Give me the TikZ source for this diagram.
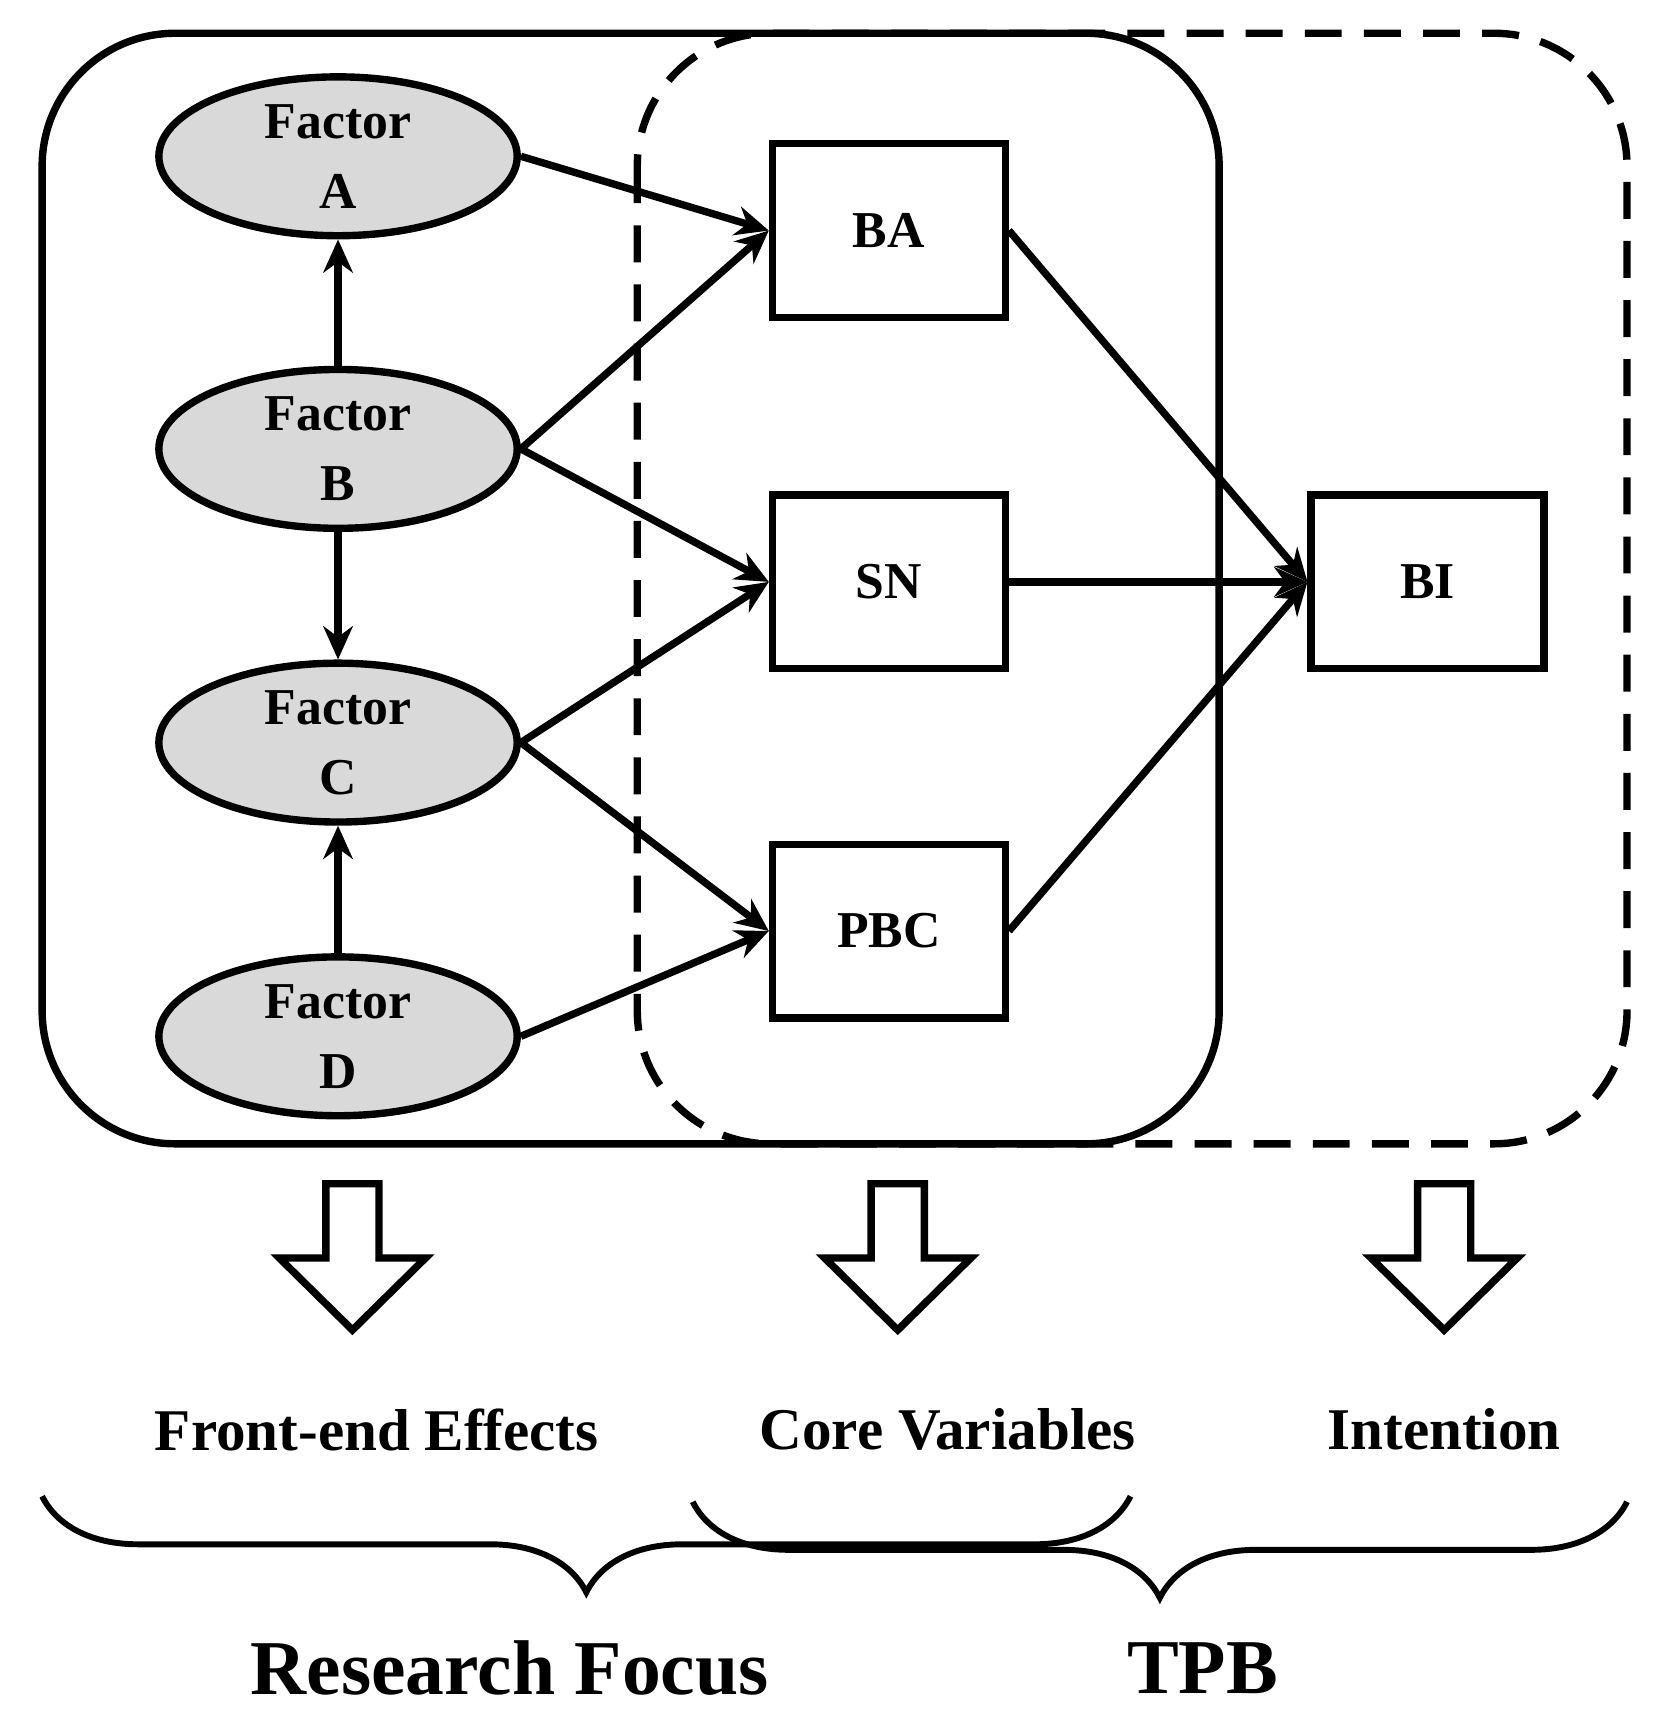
\documentclass[tikz,border=0pt]{standalone}
\usepackage{fontspec}
\setmainfont{Liberation Serif}
\usetikzlibrary{shapes.geometric,arrows.meta,decorations.pathreplacing}
\begin{document}
\begin{tikzpicture}[x=0.3pt,y=-0.3pt,
  fac/.style={ellipse,draw,line width=2pt,fill=gray!30,minimum width=97pt,minimum height=43pt,inner sep=0pt,align=center,font=\bfseries\fontsize{14}{19}\selectfont},
  box/.style={rectangle,draw,line width=2pt,minimum width=63pt,minimum height=47pt,font=\bfseries\fontsize{14}{16}\selectfont},
  arr/.style={line width=2pt,-{Stealth[length=9pt,width=8pt]}},
  blk/.style={draw,line width=2pt,fill=white},
  lab/.style={font=\bfseries\fontsize{16}{18}\selectfont},
  big/.style={font=\bfseries\fontsize{21}{24}\selectfont},
  brc/.style={decorate,decoration={brace,amplitude=26pt,mirror},line width=1.6pt}]
\useasboundingbox (0,0) rectangle (1500,1560);
\draw[line width=2pt,rounded corners=36pt] (38,30) rectangle (1100,1032);
\draw[line width=2pt,dashed,dash pattern=on 10pt off 6pt,rounded corners=36pt] (575,30) rectangle (1468,1032);
\node[fac] (A) at (305,141) {Factor\\A};
\node[fac] (B) at (305,405) {Factor\\B};
\node[fac] (C) at (305,670) {Factor\\C};
\node[fac] (D) at (305,935) {Factor\\D};
\node[box] (BA) at (802,208) {BA};
\node[box] (SN) at (802,525) {SN};
\node[box] (PBC) at (802,840) {PBC};
\node[box] (BI) at (1288,525) {BI};
\draw[arr] (A.east) -- (BA.west);
\draw[arr] (B.east) -- (BA.west);
\draw[arr] (B.east) -- (SN.west);
\draw[arr] (C.east) -- (SN.west);
\draw[arr] (C.east) -- (PBC.west);
\draw[arr] (D.east) -- (PBC.west);
\draw[arr] (B) -- (A);
\draw[arr] (B) -- (C);
\draw[arr] (D) -- (C);
\draw[arr] (BA.east) -- (BI.west);
\draw[arr] (SN.east) -- (BI.west);
\draw[arr] (PBC.east) -- (BI.west);
\foreach \x in {318,810,1303}{
  \draw[blk] (\x-24,1068) -- (\x+24,1068) -- (\x+24,1135) -- (\x+66,1135) -- (\x,1200) -- (\x-66,1135) -- (\x-24,1135) -- cycle;}
\node[lab] (fe) at (340,1290) {Front-end Effects};
\node[lab] (cv) at (855,1290) {Core Variables};
\node[lab] (in) at (1303,1290) {Intention};
\draw[brc] (38,1350) -- (1020,1350);
\draw[brc] (625,1355) -- (1468,1355);
\node[big] (rf) at (460,1505) {Research Focus};
\node[big] (tpb) at (1085,1505) {TPB};
\end{tikzpicture}
\end{document}
